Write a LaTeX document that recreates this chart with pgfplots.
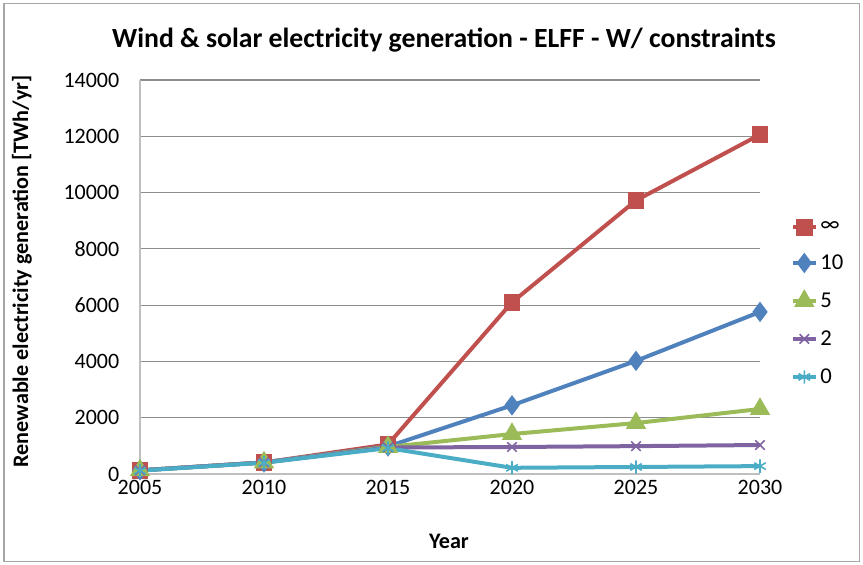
\documentclass[border=0pt]{standalone}
\usepackage{pgfplots}
\pgfplotsset{compat=1.18}
\usepackage{fontspec}
\setmainfont{Carlito}
\definecolor{cRed}{HTML}{C0504D}
\definecolor{cBlue}{HTML}{4F81BD}
\definecolor{cGreen}{HTML}{9BBB59}
\definecolor{cPurple}{HTML}{8064A2}
\definecolor{cCyan}{HTML}{4BACC6}
\definecolor{gridc}{HTML}{8C8C8C}
\definecolor{axc}{HTML}{BFBFBF}
\begin{document}
\begin{tikzpicture}
\useasboundingbox (-105pt,-67.5pt) rectangle (542.25pt,355.5pt);
\draw[draw=gray!70, line width=0.8pt] (-102pt,-65.5pt) rectangle (539.5pt,353pt);
\begin{axis}[
  at={(0,0)}, anchor=south west,
  scale only axis, width=465pt, height=295.5pt,
  xmin=2005, xmax=2030, ymin=0, ymax=14000,
  xtick={2005,2010,2015,2020,2025,2030},
  ytick={0,2000,4000,6000,8000,10000,12000,14000},
  scaled ticks=false,
  /pgf/number format/1000 sep={},
  /pgf/number format/assume math mode=true,
  tick label style={font=\fontsize{16.5}{19}\selectfont},
  axis lines=left,
  axis line style={draw=axc, line width=1pt, -},
  major tick length=0pt,
  ymajorgrids, grid style={draw=gridc, line width=0.8pt},
  yticklabel style={xshift=-12pt},
  xticklabel style={yshift=-1pt},
  clip=false,
  legend style={at={(488pt,128pt)}, anchor=west, draw=none, fill=none,
    font=\fontsize{17}{20}\selectfont, row sep=12pt,
    legend cell align=left, inner sep=0pt},
  legend image post style={line width=3pt},
]
\addplot[cRed, line width=3pt, mark=square*, mark size=4.8pt] coordinates {(2005,130) (2010,410) (2015,1050) (2020,6100) (2025,9720) (2030,12060)};
\addlegendentry{∞}
\addplot[cBlue, line width=3pt, mark=diamond*, mark size=5.2pt] coordinates {(2005,130) (2010,410) (2015,980) (2020,2440) (2025,4020) (2030,5760)};
\addlegendentry{10}
\addplot[cGreen, line width=3pt, mark=triangle*, mark size=5.8pt] coordinates {(2005,130) (2010,410) (2015,960) (2020,1420) (2025,1810) (2030,2310)};
\addlegendentry{5}
\addplot[cPurple, line width=3pt, mark=x, mark size=5pt, mark options={line width=1.2pt}] coordinates {(2005,130) (2010,410) (2015,940) (2020,960) (2025,990) (2030,1030)};
\addlegendentry{2}
\addplot[cCyan, line width=3pt, mark=asterisk, mark size=5pt, mark options={line width=1.2pt}] coordinates {(2005,120) (2010,400) (2015,920) (2020,220) (2025,250) (2030,280)};
\addlegendentry{0}
\end{axis}
\node[font=\bfseries\fontsize{20.8}{24}\selectfont] at (228pt,325.5pt) {Wind \& solar electricity generation - ELFF - W/ constraints};
\node[font=\bfseries\fontsize{16.6}{19}\selectfont, rotate=90] at (-88.5pt,152pt) {Renewable electricity generation [TWh/yr]};
\node[font=\bfseries\fontsize{16.6}{19}\selectfont] at (231.75pt,-50.25pt) {Year};
\end{tikzpicture}
\end{document}
